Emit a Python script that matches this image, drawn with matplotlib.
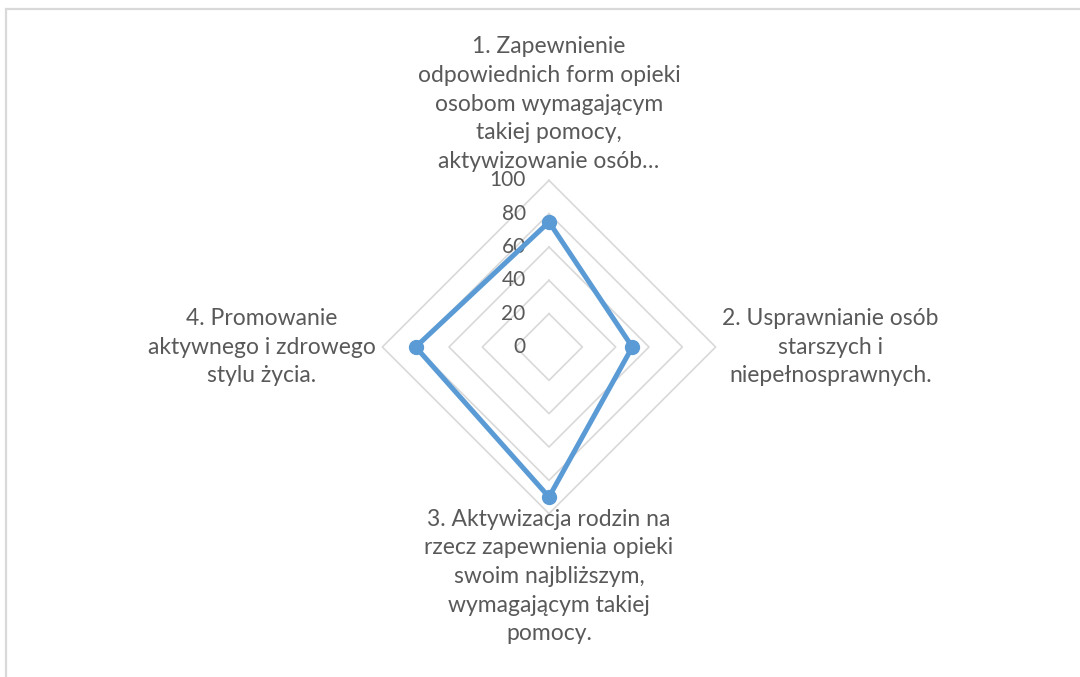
import numpy as np
import matplotlib
matplotlib.use("Agg")
import matplotlib.pyplot as plt
from matplotlib.patches import Rectangle

categories = [
    "1. Zapewnienie\nodpowiednich form opieki\nosobom wymagającym\ntakiej pomocy,\naktywizowanie osób…",
    "2. Usprawnianie osób\nstarszych i\nniepełnosprawnych.",
    "3. Aktywizacja rodzin na\nrzecz zapewnienia opieki\nswoim najbliższym,\nwymagającym takiej\npomocy.",
    "4. Promowanie\naktywnego i zdrowego\nstylu życia.",
]
values = [75, 50, 90, 80]
rings = [20, 40, 60, 80, 100]
ring_labels = ["0", "20", "40", "60", "80", "100"]

grid_color = "#D9D9D9"
text_color = "#595959"
line_color = "#5B9BD5"

plt.rcParams["font.family"] = ["Lato", "DejaVu Sans"]

fig = plt.figure(figsize=(10.8, 6.77), dpi=100)

# chart frame
fig.patches.append(Rectangle((6 / 1080, -0.1), 1.2, (677 - 9) / 677 + 0.1,
                             transform=fig.transFigure, fill=False,
                             edgecolor=grid_color, linewidth=1.6))

# axes centred at (549, 347) px, 1 unit = 1.667 px
ax = fig.add_axes([249 / 1080, 30 / 677, 600 / 1080, 600 / 677])
ax.set_xlim(-180, 180)
ax.set_ylim(-180, 180)
ax.set_aspect("equal")
ax.axis("off")

angles = np.arange(len(categories)) * 2 * np.pi / len(categories)
ux, uy = np.sin(angles), np.cos(angles)

for r in rings:
    ax.plot(np.append(ux, ux[0]) * r, np.append(uy, uy[0]) * r,
            color=grid_color, linewidth=1.2, zorder=1)

v = np.array(values)
ax.plot(np.append(ux * v, ux[0] * v[0]), np.append(uy * v, uy[0] * v[0]),
        color=line_color, linewidth=3.6, marker="o", markersize=10,
        markevery=list(range(len(values))), zorder=3)

for i, lab in enumerate(ring_labels):
    ax.text(-14, i * 20, lab, ha="right", va="center", fontsize=15,
            color=text_color, zorder=2)

fs = 16.5
ls = 1.45
ax.text(0, 105, categories[0], ha="center", va="bottom", fontsize=fs,
        color=text_color, linespacing=ls, multialignment="center", clip_on=False)
ax.text(104, 0, categories[1], ha="left", va="center", fontsize=fs,
        color=text_color, linespacing=ls, multialignment="center", clip_on=False)
ax.text(0, -97, categories[2], ha="center", va="top", fontsize=fs,
        color=text_color, linespacing=ls, multialignment="center", clip_on=False)
ax.text(-104, 0, categories[3], ha="right", va="center", fontsize=fs,
        color=text_color, linespacing=ls, multialignment="center", clip_on=False)

fig.savefig("out.png", dpi=100)
